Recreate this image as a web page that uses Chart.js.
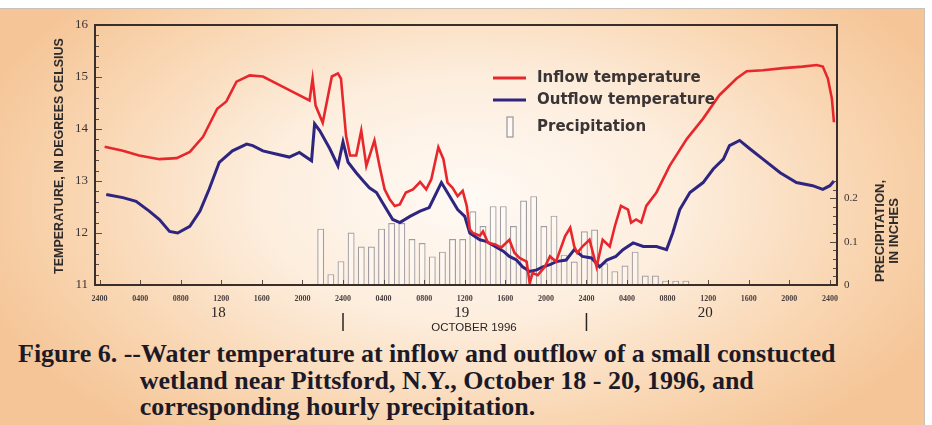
<!DOCTYPE html>
<html>
<head>
<meta charset="utf-8">
<script src="https://cdn.jsdelivr.net/npm/chart.js@4"></script>
<style>
  html, body { margin: 0; padding: 0; background: #fff; }
  #page { position: relative; width: 932px; height: 425px; overflow: hidden; }
  #paper {
    position: absolute; left: 0; top: 8px; width: 924px; height: 417px;
    border-top: 1px solid #c9c2bb; border-right: 1px solid #c9c2bb;
    background: radial-gradient(ellipse 520px 300px at 470px 190px, #fffaf5 0%, #fdeede 40%, #f9d6b2 75%, #f5c597 100%);
  }
  #chart { position: absolute; left: 0; top: 0; }
  #caption {
    position: absolute; left: 18px; top: 341px; width: 900px;
    font-family: "Liberation Serif", "Times New Roman", serif; font-weight: bold;
    font-size: 25px; line-height: 26.5px; color: #1d1a28; white-space: nowrap;
    transform: scaleX(1.04); transform-origin: 0 0;
  }
  #caption .indent { padding-left: 117px; }
</style>
</head>
<body>
<div id="page">
  <div id="paper"></div>
  <canvas id="chart" width="932" height="340"></canvas>
  <div id="caption">
    <div>Figure 6. --Water temperature at inflow and outflow of a small constucted</div>
    <div class="indent">wetland near Pittsford, N.Y., October 18 - 20, 1996, and</div>
    <div class="indent">corresponding hourly precipitation.</div>
  </div>
</div>
<script>
// Saat: 18 Ekim 0000'dan itibaren geçen saat
const inflowHours = [0.5, 2.3, 3.9, 5.9, 7.6, 8.9, 10.2, 11.6, 12.5, 13.5, 14.8, 16.1, 17.8, 19.0, 20.7, 21.0, 21.3, 22.0, 22.9, 23.5,
  23.8, 24.3, 24.7, 25.3, 25.8, 26.3, 27.1, 27.6, 28.1, 28.6, 29.1, 29.6, 30.2, 30.9, 31.6, 32.2, 32.7, 33.4, 33.9, 34.3,
  34.8, 35.3, 35.8, 36.2, 36.5, 36.8, 37.5, 37.8, 38.3, 39.0, 39.6, 40.4, 40.9, 41.4, 42.1, 42.4, 42.7, 43.2, 43.9, 44.4,
  45.0, 45.9, 46.4, 46.8, 47.1, 47.6, 48.3, 49.0, 49.6, 50.3, 50.8, 51.4, 52.1, 52.4, 52.9, 53.4, 53.9, 54.9, 56.2, 57.9,
  59.5, 61.1, 62.8, 63.8, 65.4, 67.4, 69.3, 70.7, 71.3, 71.8, 72.2, 72.4];
const inflowTemp = [13.66, 13.58, 13.49, 13.42, 13.44, 13.56, 13.85, 14.39, 14.53, 14.91, 15.03, 15.01, 14.84, 14.72, 14.55, 14.97, 14.45, 14.12, 15.01, 15.07,
  14.97, 13.87, 13.49, 13.49, 13.97, 13.29, 13.78, 13.29, 12.84, 12.65, 12.52, 12.55, 12.78, 12.84, 12.98, 12.84, 13.03, 13.65, 13.42, 12.97,
  12.87, 12.71, 12.81, 12.52, 12.07, 12.00, 11.95, 12.03, 11.81, 11.78, 11.72, 11.87, 11.62, 11.52, 11.45, 11.04, 11.23, 11.19, 11.35, 11.55,
  11.45, 11.94, 12.10, 11.74, 11.62, 11.74, 11.87, 11.35, 11.87, 11.74, 12.13, 12.52, 12.45, 12.20, 12.26, 12.20, 12.52, 12.78, 13.29, 13.81,
  14.20, 14.65, 14.97, 15.11, 15.13, 15.17, 15.20, 15.23, 15.20, 14.97, 14.58, 14.13];

const outflowHours = [0.66, 2.3, 3.6, 4.9, 5.9, 6.9, 7.7, 8.9, 9.9, 10.8, 11.8, 13.1, 14.5, 15.1, 16.1, 17.4, 18.7, 19.7, 20.9, 21.2,
  21.7, 22.7, 23.5, 24.0, 24.5, 25.3, 26.0, 26.6, 27.3, 27.9, 28.9, 29.6, 30.6, 31.6, 32.5, 33.7, 34.5, 35.3, 36.0, 36.5,
  37.5, 38.1, 39.0, 39.8, 40.4, 41.1, 41.7, 42.4, 43.1, 43.7, 44.4, 45.0, 46.0, 46.8, 47.6, 48.5, 49.3, 50.0, 50.9, 51.6,
  52.6, 53.6, 54.9, 55.9, 56.5, 57.2, 58.2, 59.5, 60.5, 61.5, 62.1, 63.1, 64.1, 65.4, 67.1, 68.7, 70.3, 71.3, 72.0, 72.4];
const outflowTemp = [12.74, 12.68, 12.61, 12.42, 12.26, 12.03, 12.00, 12.13, 12.42, 12.84, 13.36, 13.58, 13.71, 13.68, 13.58, 13.52, 13.46, 13.55, 13.39, 14.10,
  13.97, 13.62, 13.29, 13.75, 13.36, 13.16, 13.00, 12.87, 12.78, 12.58, 12.26, 12.20, 12.32, 12.42, 12.49, 12.97, 12.71, 12.45, 12.32, 12.00,
  11.87, 11.84, 11.74, 11.65, 11.55, 11.48, 11.35, 11.26, 11.29, 11.35, 11.39, 11.45, 11.48, 11.68, 11.55, 11.52, 11.35, 11.48, 11.55, 11.68,
  11.81, 11.74, 11.74, 11.68, 12.00, 12.45, 12.78, 12.97, 13.23, 13.42, 13.68, 13.78, 13.62, 13.42, 13.16, 12.97, 12.91, 12.84, 12.91, 13.00];

// Saatlik yağış (inç)
const precipHours = [21.8, 22.8, 23.8, 24.8, 25.8, 26.8, 27.8, 28.8, 29.8, 30.8, 31.8, 32.8, 33.8, 34.8, 35.8, 36.8, 37.8, 38.8, 39.8,
  40.8, 41.8, 42.8, 43.8, 44.8, 45.8, 46.8, 47.8, 48.8, 49.8, 50.8, 51.8, 52.8, 53.8, 54.8, 55.8, 56.8, 57.8];
const precip = [0.130, 0.025, 0.055, 0.121, 0.089, 0.089, 0.130, 0.143, 0.143, 0.106, 0.097, 0.066, 0.077, 0.106, 0.106, 0.170, 0.136, 0.182, 0.182,
  0.136, 0.195, 0.205, 0.136, 0.160, 0.070, 0.054, 0.124, 0.128, 0.050, 0.032, 0.045, 0.077, 0.022, 0.022, 0.010, 0.010, 0.010];

const hourTicks = [0, 4, 8, 12, 16, 20, 24, 28, 32, 36, 40, 44, 48, 52, 56, 60, 64, 68, 72];
const tempTicks = [11, 12, 13, 14, 15, 16];
const precipTicks = [0, 0.1, 0.2];
const dayLabels = ['18', '19', '20'];
const dayCenters = [12, 36, 60];
const dayBreaks = [24, 48];

const RED = '#e8272c';
const BLUE = '#2d2580';
const BAR_EDGE = '#a09ca2';

function hourLabel(h) {
    const m = h % 24;
    return (m === 0 ? '24' : String(m).padStart(2, '0')) + '00';
}

function pairs(xs, ys) {
    return xs.map((x, i) => ({ x: x, y: ys[i] }));
}

// Çerçeve, küçük tikler, lejant ve eksen başlıkları
const decorPlugin = {
    id: 'decor',
    afterDatasetsDraw(chart) {
        const ctx = chart.ctx;
        const a = chart.chartArea;
        const x = chart.scales.x, y = chart.scales.y, y2 = chart.scales.y2;
        ctx.save();

        // iç tikler
        ctx.strokeStyle = '#5a4c46';
        ctx.lineWidth = 1;
        ctx.beginPath();
        for (let t = 11; t <= 16.001; t += 0.2) {
            const py = Math.round(y.getPixelForValue(t)) + 0.5;
            const major = Math.abs(t - Math.round(t)) < 0.01;
            ctx.moveTo(a.left, py); ctx.lineTo(a.left + (major ? 7 : 4), py);
        }
        for (let p = 0; p <= 0.2401; p += 0.02) {
            const py = Math.round(y2.getPixelForValue(p)) + 0.5;
            const major = Math.abs(p * 10 - Math.round(p * 10)) < 0.01;
            ctx.moveTo(a.right, py); ctx.lineTo(a.right - (major ? 7 : 4), py);
        }
        hourTicks.forEach(h => {
            const px = Math.round(x.getPixelForValue(h)) + 0.5;
            ctx.moveTo(px, a.bottom); ctx.lineTo(px, a.bottom - 5);
        });
        ctx.stroke();

        // çerçeve
        ctx.strokeStyle = '#3a2e2a';
        ctx.lineWidth = 2;
        ctx.strokeRect(a.left, a.top, a.right - a.left, a.bottom - a.top);

        // lejant
        ctx.lineCap = 'butt';
        ctx.lineWidth = 3;
        ctx.strokeStyle = RED;
        ctx.beginPath(); ctx.moveTo(493, 78); ctx.lineTo(526, 78); ctx.stroke();
        ctx.strokeStyle = BLUE;
        ctx.beginPath(); ctx.moveTo(493, 100); ctx.lineTo(526, 100); ctx.stroke();
        ctx.lineWidth = 1.3;
        ctx.strokeStyle = BAR_EDGE;
        ctx.fillStyle = 'rgba(255,255,255,0.5)';
        ctx.fillRect(507, 117, 6, 20);
        ctx.strokeRect(507, 117, 6, 20);
        ctx.fillStyle = '#3a3434';
        ctx.font = 'bold 15px "DejaVu Sans", sans-serif';
        ctx.textAlign = 'left';
        ctx.textBaseline = 'middle';
        ctx.fillText('Inflow temperature', 537, 78);
        ctx.fillText('Outflow temperature', 537, 100);
        ctx.fillText('Precipitation', 537, 127);

        // gün etiketleri
        ctx.fillStyle = '#2a2424';
        ctx.font = '15px "Liberation Serif", serif';
        ctx.textAlign = 'center';
        dayLabels.forEach((d, i) => ctx.fillText(d, x.getPixelForValue(dayCenters[i]) - 3, 313));
        ctx.strokeStyle = '#2a2424';
        ctx.lineWidth = 1.5;
        dayBreaks.forEach(h => {
            const px = x.getPixelForValue(h);
            ctx.beginPath(); ctx.moveTo(px, 313); ctx.lineTo(px, 331); ctx.stroke();
        });
        ctx.font = '11.5px "Liberation Sans", sans-serif';
        ctx.fillText('OCTOBER 1996', 474, 328);

        // eksen başlıkları
        ctx.font = 'bold 12.5px "Liberation Sans", sans-serif';
        ctx.fillStyle = '#2f2b2b';
        ctx.save();
        ctx.translate(60, 156);
        ctx.rotate(-Math.PI / 2);
        ctx.fillText('TEMPERATURE, IN DEGREES CELSIUS', 0, 0);
        ctx.restore();
        ctx.font = 'bold 13px "Liberation Sans", sans-serif';
        ctx.save();
        ctx.translate(880, 231);
        ctx.rotate(-Math.PI / 2);
        ctx.fillText('PRECIPITATION,', 0, 0);
        ctx.fillText('IN INCHES', 0, 14);
        ctx.restore();

        ctx.restore();
    }
};

new Chart(document.getElementById('chart'), {
    type: 'bar',
    data: {
        datasets: [
            {
                type: 'line',
                label: 'Inflow temperature',
                data: pairs(inflowHours, inflowTemp),
                borderColor: RED,
                borderWidth: 2.6,
                pointRadius: 0,
                tension: 0,
                yAxisID: 'y',
                order: 1
            },
            {
                type: 'line',
                label: 'Outflow temperature',
                data: pairs(outflowHours, outflowTemp),
                borderColor: BLUE,
                borderWidth: 3,
                pointRadius: 0,
                tension: 0,
                yAxisID: 'y',
                order: 2
            },
            {
                type: 'bar',
                label: 'Precipitation',
                data: pairs(precipHours, precip),
                backgroundColor: 'rgba(255,255,255,0.35)',
                borderColor: BAR_EDGE,
                borderWidth: 1.2,
                barPercentage: 0.68,
                categoryPercentage: 1,
                yAxisID: 'y2',
                order: 3
            }
        ]
    },
    options: {
        responsive: false,
        animation: false,
        layout: { padding: { top: 25, left: 0, right: 0, bottom: 0 } },
        plugins: {
            legend: { display: false },
            tooltip: { enabled: false }
        },
        scales: {
            x: {
                type: 'linear',
                min: -0.45,
                max: 72.7,
                offset: false,
                grid: { display: false, drawTicks: false },
                border: { display: false },
                afterBuildTicks: scale => { scale.ticks = hourTicks.map(v => ({ value: v })); },
                afterFit: scale => { scale.height = 55; },
                ticks: {
                    autoSkip: false,
                    maxRotation: 0,
                    padding: 9,
                    color: '#4a4040',
                    font: { family: '"Liberation Serif", serif', size: 8, weight: 'bold' },
                    callback: v => hourLabel(v)
                }
            },
            y: {
                position: 'left',
                min: 11,
                max: 16,
                grid: { display: false, drawTicks: false },
                border: { display: false },
                afterBuildTicks: scale => { scale.ticks = tempTicks.map(v => ({ value: v })); },
                afterFit: scale => { scale.width = 95; },
                ticks: {
                    padding: 7,
                    color: '#3a3232',
                    font: { family: '"Liberation Serif", serif', size: 13 }
                }
            },
            y2: {
                position: 'right',
                min: 0,
                max: 0.6,
                grid: { display: false, drawTicks: false },
                border: { display: false },
                afterBuildTicks: scale => { scale.ticks = precipTicks.map(v => ({ value: v })); },
                afterFit: scale => { scale.width = 95; },
                ticks: {
                    padding: 7,
                    color: '#3a3232',
                    font: { family: '"Liberation Serif", serif', size: 11 },
                    callback: v => v === 0 ? '0' : v.toFixed(1)
                }
            }
        }
    },
    plugins: [decorPlugin]
});
</script>
</body>
</html>
